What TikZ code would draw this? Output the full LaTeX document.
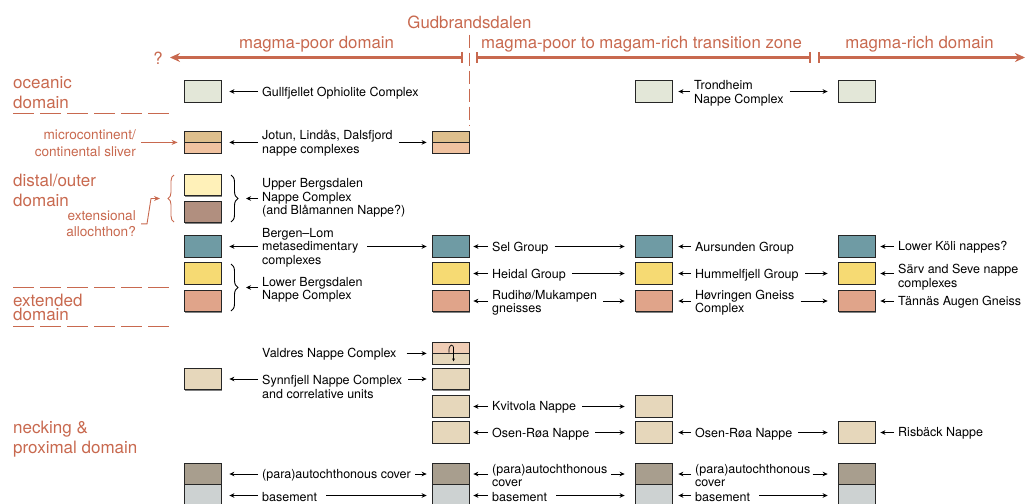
\documentclass[tikz,border=0pt]{standalone}
\usepackage{fontspec}
\setmainfont{TeX Gyre Heros}
\usepackage{tikz}
\usetikzlibrary{arrows.meta}
\usetikzlibrary{positioning}
\usetikzlibrary{shadows}
\usetikzlibrary{decorations.pathreplacing}

\definecolor{rust}{HTML}{C8694F}
\definecolor{ocean}{HTML}{E3E7D8}
\definecolor{jotA}{HTML}{DEBF8D}
\definecolor{jotB}{HTML}{F0C2A0}
\definecolor{ubyel}{HTML}{FFF1B9}
\definecolor{ubbrn}{HTML}{B18F7F}
\definecolor{slate}{HTML}{6F9BA4}
\definecolor{mustard}{HTML}{F6DA73}
\definecolor{salmonred}{HTML}{E0A48A}
\definecolor{valA}{HTML}{F0CDB5}
\definecolor{sand}{HTML}{E6D7BB}
\definecolor{cover}{HTML}{A89E8E}
\definecolor{basem}{HTML}{CDD2D2}

\begin{document}
\begin{tikzpicture}[x=1pt,y=-1pt,
    unitbox/.style={draw=black!85,line width=0.8pt,minimum width=37pt,minimum height=21.5pt,inner sep=0pt,
      drop shadow={shadow xshift=1.1pt,shadow yshift=-1.1pt,fill=black!55,opacity=0.9}},
    half/.style={unitbox,minimum height=11pt},
    txt/.style={anchor=west,align=left,inner sep=0pt,yshift=-1.2pt,font=\fontsize{12.5}{13.6}\selectfont},
    zonelbl/.style={anchor=west,align=left,inner sep=0pt,yshift=-1pt,text=rust,font=\fontsize{17}{20}\selectfont},
    side/.style={anchor=east,align=right,inner sep=0pt,yshift=-0.8pt,text=rust,font=\fontsize{13.6}{16.5}\selectfont},
    zonehead/.style={inner sep=0pt,text=rust,font=\fontsize{16.8}{20}\selectfont},
    blk/.style={-{Stealth[length=5pt,width=4.6pt]},line width=0.85pt},
    la/.style={blk,shorten <=4pt,shorten >=#1},la/.default=5pt,
    ra/.style={blk,shorten <=6pt,shorten >=#1},ra/.default=10pt,
    zone/.style={draw=rust,line width=2.4pt},
    oarr/.style={draw=rust,line width=0.9pt,-{Stealth[length=6pt,width=5pt]}},
    rule/.style={draw=rust,line width=0.9pt,dash pattern=on 21pt off 6pt},
    bbrace/.style={decorate,decoration={brace,amplitude=7pt},line width=0.9pt},
    obrace/.style={decorate,decoration={brace,amplitude=6pt},line width=0.9pt,draw=rust}]
  \useasboundingbox (0,0) rectangle (1027,503);

  % zones along the margin
  \node[zonehead] (gud) at (469.5,22) {Gudbrandsdalen};
  \coordinate (gudend) at (469.5,125);
  \draw[rust,line width=1pt,dash pattern=on 13pt off 5pt,shorten <=6pt] (gud.south) -- (gudend);
  \node[zonehead] (q) at (158,58) {?};
  \coordinate (w0) at (463,57.5);
  \coordinate (w1) at (170,57.5);
  \coordinate (t0) at (476,57.5);
  \coordinate (t1) at (811,57.5);
  \coordinate (r0) at (818,57.5);
  \coordinate (r1) at (1025,57.5);
  \draw[zone,{Bar[width=11pt,line width=1.6pt]}-{Stealth[length=10pt,width=9pt]}] (w0) -- (w1)
    node[zonehead,midway,yshift=13pt] (mpd) {magma-poor domain};
  \draw[zone,{Bar[width=11pt,line width=1.6pt]}-{Bar[width=11pt,line width=1.6pt]}] (t0) -- (t1)
    node[zonehead,midway,xshift=-2pt,yshift=13pt] (mtz) {magma-poor to magam-rich transition zone};
  \draw[zone,{Bar[width=11pt,line width=1.6pt]}-{Stealth[length=10pt,width=9pt]}] (r0) -- (r1)
    node[zonehead,midway,xshift=-2pt,yshift=13pt] (mrd) {magma-rich domain};

  \node[zonelbl] (ocean) at (13,92) {oceanic\\domain};
  \node[zonelbl] (distal) at (13,189) {distal/outer\\domain};
  \node[zonelbl,font=\fontsize{17}{14.5}\selectfont] (extd) at (13,306.5) {extended\\domain};
  \node[zonelbl] (neck) at (13,438) {necking \&\\proximal domain};
  \foreach \y in {113,287,326}
    \draw[rule] (13,\y) -- (170,\y);

  \node[side] (micro) at (136,142.5) {microcontinent/\\continental sliver};
  \node[side] (ext) at (136,223) {extensional\\allochthon?};

  % unit boxes
  \node[unitbox,fill=ocean] (oc1) at (202.5,91.5) {};
  \node[unitbox,fill=ocean] (oc3) at (653.5,91.5) {};
  \node[unitbox,fill=ocean] (oc4) at (856.5,91.5) {};
  \foreach \k/\x in {1/202.5,2/450.5} {
    \node[half,fill=jotA] (jo\k a) at (\x,136.5) {};
    \node[half,fill=jotB] (jo\k b) at (\x,147.5) {};
  }
  \node[unitbox,fill=ubyel] (ub1a) at (202.5,185) {};
  \node[unitbox,fill=ubbrn] (ub1b) at (202.5,212) {};
  \foreach \k/\x in {1/202.5,2/450.5,3/653.5,4/856.5} {
    \node[unitbox,fill=slate] (te\k) at (\x,246.5) {};
    \node[unitbox,fill=mustard] (ye\k) at (\x,273.5) {};
    \node[unitbox,fill=salmonred] (sa\k) at (\x,301) {};
    \node[unitbox,fill=cover] (pc\k) at (\x,474) {};
    \node[unitbox,fill=basem] (bs\k) at (\x,495.5) {};
  }
  \node[half,fill=valA] (va2a) at (450.5,347.5) {};
  \node[half,fill=sand] (va2b) at (450.5,358.5) {};
  \draw[line width=0.7pt,-{Stealth[length=3.2pt,width=2.8pt]}] (449,352.5) .. controls (448,343) and (454.5,343) .. (453.5,350) -- (453.5,361.5);
  \node[unitbox,fill=sand] (sy1) at (202.5,379) {};
  \node[unitbox,fill=sand] (sy2) at (450.5,379) {};
  \node[unitbox,fill=sand] (kv2) at (450.5,406.5) {};
  \node[unitbox,fill=sand] (kv3) at (653.5,406.5) {};
  \foreach \k/\x in {2/450.5,3/653.5,4/856.5}
    \node[unitbox,fill=sand] (os\k) at (\x,432.5) {};

  % braces
  \draw[obrace] (174,222) -- (174,175);
  \coordinate (obtip) at (168,198.5);
  \draw[bbrace] (231,175) -- (231,222);
  \coordinate (ubtip) at (238,198.5);
  \draw[bbrace] (231,264) -- (231,311);
  \coordinate (lbtip) at (238,287.5);

  \draw[oarr,shorten <=5pt,shorten >=6pt] (micro.east |- jo1a.south west) -- (jo1a.south west);
  \draw[oarr] ([xshift=5pt]ext.east) -- ++(6,0) -- ([xshift=-17pt]obtip) -- ([xshift=-8pt]obtip);

  % labels and arrows
  \node[txt] (gull) at (262,91.5) {Gullfjellet Ophiolite Complex};
  \draw[la=8pt] (gull.west |- oc1) -- (oc1.east);
  \node[txt] (trond) at (694,92) {Trondheim\\Nappe Complex};
  \draw[la=6pt] (trond.west |- oc3) -- (oc3.east);
  \draw[ra] (trond.east |- oc4) -- (oc4.west);

  \node[txt] (jot) at (262,142) {Jotun, Lindås, Dalsfjord\\nappe complexes};
  \draw[la=8pt] (jot.west |- jo1a.south east) -- (jo1a.south east);
  \draw[ra=5pt] (jot.east |- jo2a.south west) -- (jo2a.south west);

  \node[txt] (ubn) at (262,197) {Upper Bergsdalen\\Nappe Complex\\(and Blåmannen Nappe?)};
  \draw[la=8pt] (ubn.west |- ubtip) -- (ubtip);

  \node[txt] (blom) at (262,246.5) {Bergen–Lom\\metasedimentary\\complexes};
  \draw[la=8pt] (blom.west |- te1) -- (te1.east);
  \draw[ra=5pt,shorten <=9pt] (blom.east |- te2) -- (te2.west);

  \node[txt] (lbn) at (262,288.5) {Lower Bergsdalen\\Nappe Complex};
  \draw[la=8pt] (lbn.west |- lbtip) -- (lbtip);

  \node[txt] (sel) at (492,246.5) {Sel Group};
  \draw[la=4pt] (sel.west |- te2) -- (te2.east);
  \draw[ra] (sel.east |- te3) -- (te3.west);
  \node[txt] (hei) at (492,273.5) {Heidal Group};
  \draw[la=4pt] (hei.west |- ye2) -- (ye2.east);
  \draw[ra] (hei.east |- ye3) -- (ye3.west);
  \node[txt] (rud) at (492,301.5) {Rudihø/Mukampen\\gneisses};
  \draw[la=4pt] (rud.west |- sa2) -- (sa2.east);
  \draw[ra] (rud.east |- sa3) -- (sa3.west);

  \node[txt] (aur) at (695,246.5) {Aursunden Group};
  \draw[la=6pt] (aur.west |- te3) -- (te3.east);
  \node[txt] (hum) at (695,273.5) {Hummelfjell Group};
  \draw[la=6pt] (hum.west |- ye3) -- (ye3.east);
  \draw[ra] (hum.east |- ye4) -- (ye4.west);
  \node[txt] (hov) at (695,301.5) {Høvringen Gneiss\\Complex};
  \draw[la=6pt] (hov.west |- sa3) -- (sa3.east);
  \draw[ra] (hov.east |- sa4) -- (sa4.west);

  \node[txt] (koli) at (898,246.5) {Lower Köli nappes?};
  \draw[la=5pt] (koli.west |- te4) -- (te4.east);
  \node[txt] (sarv) at (898,276) {Särv and Seve nappe\\complexes};
  \draw[la=5pt] (sarv.west |- ye4) -- (ye4.east);
  \node[txt] (tan) at (898,301) {Tännäs Augen Gneiss};
  \draw[la=5pt] (tan.west |- sa4) -- (sa4.east);

  \node[txt] (val) at (262,353) {Valdres Nappe Complex};
  \draw[ra=5pt,shorten <=10pt] (val.east |- va2a.south west) -- (va2a.south west);
  \node[txt] (syn) at (262,385.5) {Synnfjell Nappe Complex\\and correlative units};
  \draw[la=8pt] (syn.west |- sy1) -- (sy1.east);
  \draw[ra=5pt] (syn.east |- sy2) -- (sy2.west);

  \node[txt] (kvi) at (492,406.5) {Kvitvola Nappe};
  \draw[la=4pt] (kvi.west |- kv2) -- (kv2.east);
  \draw[ra] (kvi.east |- kv3) -- (kv3.west);
  \node[txt] (osa) at (492,432.5) {Osen-Røa Nappe};
  \draw[la=4pt] (osa.west |- os2) -- (os2.east);
  \draw[ra] (osa.east |- os3) -- (os3.west);
  \node[txt] (osb) at (695,432.5) {Osen-Røa Nappe};
  \draw[la=6pt] (osb.west |- os3) -- (os3.east);
  \draw[ra] (osb.east |- os4) -- (os4.west);
  \node[txt] (ris) at (898,432.5) {Risbäck Nappe};
  \draw[la=5pt] (ris.west |- os4) -- (os4.east);

  \node[txt] (pa1) at (262,474) {(para)autochthonous cover};
  \draw[la=8pt] (pa1.west |- pc1) -- (pc1.east);
  \draw[ra=5pt,shorten <=4pt] (pa1.east |- pc2) -- (pc2.west);
  \node[txt] (pa2) at (492,474.5) {(para)autochthonous\\cover};
  \draw[la=4pt] (pa2.west |- pc2) -- (pc2.east);
  \draw[ra,shorten <=4pt] (pa2.east |- pc3) -- (pc3.west);
  \node[txt] (pa3) at (695,474.5) {(para)autochthonous\\cover};
  \draw[la=6pt] (pa3.west |- pc3) -- (pc3.east);
  \draw[ra,shorten <=2pt] (pa3.east |- pc4) -- (pc4.west);

  \node[txt] (bm1) at (262,495.5) {basement};
  \draw[la=8pt] (bm1.west |- bs1) -- (bs1.east);
  \draw[ra=5pt,shorten <=9pt] (bm1.east |- bs2) -- (bs2.west);
  \node[txt] (bm2) at (492,495.5) {basement};
  \draw[la=4pt] (bm2.west |- bs2) -- (bs2.east);
  \draw[ra,shorten <=9pt] (bm2.east |- bs3) -- (bs3.west);
  \node[txt] (bm3) at (695,495.5) {basement};
  \draw[la=6pt] (bm3.west |- bs3) -- (bs3.east);
  \draw[ra,shorten <=9pt] (bm3.east |- bs4) -- (bs4.west);
\end{tikzpicture}
\end{document}
